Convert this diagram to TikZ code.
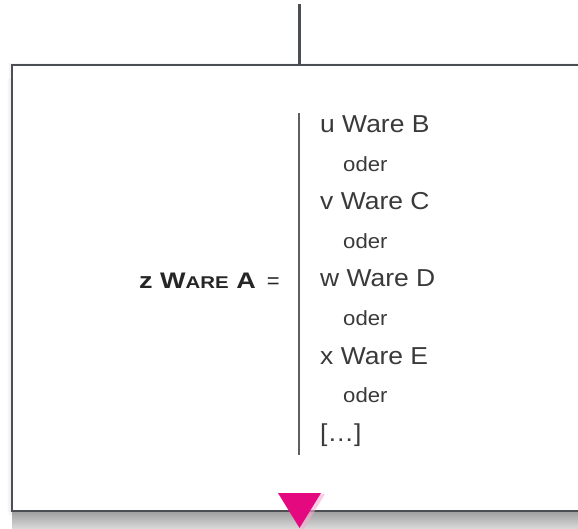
\documentclass[tikz,border=0pt]{standalone}
\usepackage{fontspec}
\usepackage{graphicx}
\setmainfont{Liberation Sans}
\definecolor{linegray}{HTML}{4B4E52}
\definecolor{txtgray}{HTML}{3A3A3A}
\definecolor{magenta}{HTML}{E5097F}
\newcommand{\wideitem}[1]{\scalebox{1.08}[1]{#1}}
\tikzset{
  frameline/.style={draw=linegray, line width=2.6pt},
  listitem/.style={anchor=base west, inner sep=0pt, text=txtgray, font=\fontsize{24.5}{24}\selectfont},
  oderitem/.style={anchor=base west, inner sep=0pt, text=txtgray, font=\fontsize{20.5}{20}\selectfont},
  lhs/.style={anchor=base east, inner sep=0pt, text=black!85},
}
\begin{document}
\begin{tikzpicture}[x=1pt,y=-1pt]
\useasboundingbox (0,0) rectangle (578,529);
% shadow
\fill[black!4] (9,63) rectangle (590,515);
\shade[top color=black!38, bottom color=black!14] (12,511) rectangle (590,529);
\shade[left color=white, right color=black!10] (6,80) rectangle (12,511);
% box
\fill[white] (12,65) rectangle (590,511);
\draw[frameline] (590,65) -- (12,65) -- (12,511) -- (590,511);
% top connector
\coordinate (topend) at (299.5,4);
\coordinate (topjoin) at (299.5,65);
\draw[frameline] (topend) -- (topjoin);
% inner bar
\coordinate (bartop) at (298.5,113);
\coordinate (barbot) at (298.5,455);
\draw[draw=linegray!90, line width=2pt] (bartop) -- (barbot);
% left side
\node[lhs] (eq) at (280,288) {\fontsize{22}{22}\selectfont =};
\node[lhs] (lhsA) at (256,288) {\scalebox{1.2}[1]{\bfseries\fontsize{22.5}{22}\selectfont z W{\fontsize{17}{16}\selectfont ARE} A}};
% list
\node[listitem] (b) at (320,133) {\wideitem{u Ware B}};
\node[oderitem] (o1) at (343,172) {\wideitem{oder}};
\node[listitem] (c) at (320,210) {\wideitem{v Ware C}};
\node[oderitem] (o2) at (343,249) {\wideitem{oder}};
\node[listitem] (d) at (320,287) {\wideitem{w Ware D}};
\node[oderitem] (o3) at (343,325) {\wideitem{oder}};
\node[listitem] (e) at (320,364) {\wideitem{x Ware E}};
\node[oderitem] (o4) at (343,402) {\wideitem{oder}};
\node[listitem] (f) at (320,441) {\wideitem{[…]}};
% triangle
\fill[magenta!35, opacity=0.6] (280,494) -- (325,494) -- (302.5,531) -- cycle;
\fill[magenta] (278,493) -- (321,493) -- (299.5,528) -- cycle;
\end{tikzpicture}
\end{document}
